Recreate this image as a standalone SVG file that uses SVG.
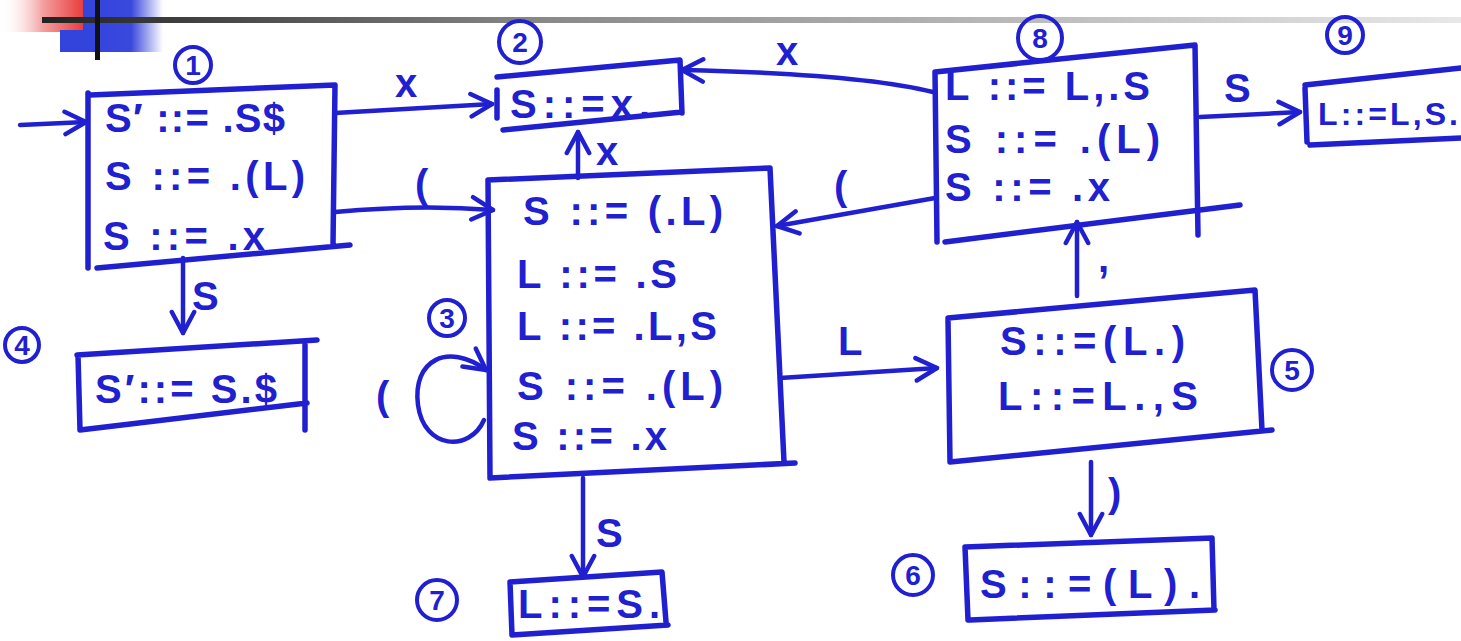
<svg xmlns="http://www.w3.org/2000/svg" width="1461" height="641" viewBox="0 0 1461 641">
<defs>
<linearGradient id="gLine" x1="0" y1="0" x2="1" y2="0">
<stop offset="0" stop-color="#222"/><stop offset="0.35" stop-color="#888"/><stop offset="1" stop-color="#e8e8e8"/>
</linearGradient>
<linearGradient id="gRed" x1="0" y1="0" x2="1" y2="0">
<stop offset="0" stop-color="#fff" stop-opacity="0"/><stop offset="0.5" stop-color="#f4a0a0"/><stop offset="1" stop-color="#e83838"/>
</linearGradient>
<linearGradient id="gBlue" x1="0" y1="0" x2="1" y2="0">
<stop offset="0" stop-color="#3344dd"/><stop offset="0.6" stop-color="#3a48dd"/><stop offset="1" stop-color="#3a48dd" stop-opacity="0"/>
</linearGradient>
<marker id="ah" viewBox="0 0 20 20" refX="18" refY="10" markerWidth="28" markerHeight="28" markerUnits="userSpaceOnUse" orient="auto">
<path d="M3,2 L18,10 L3,18" fill="none" stroke="#2020d0" stroke-width="3.2" stroke-linecap="round" stroke-linejoin="round"/>
</marker>
<style>
.box{fill:none;stroke:#2020d0;stroke-width:5.5;stroke-linejoin:round;stroke-linecap:round}
.edge{fill:none;stroke:#2020d0;stroke-width:4.5;stroke-linecap:round;marker-end:url(#ah)}
.t{font-family:"Liberation Sans",Arial,sans-serif;font-size:40px;font-weight:bold;fill:#2020d0}
.lbl{font-family:"Liberation Sans",Arial,sans-serif;font-size:40px;font-weight:bold;fill:#2020d0}
.num{font-family:"Liberation Sans",Arial,sans-serif;font-size:28px;font-weight:bold;fill:#2020d0;text-anchor:middle}
.nc{fill:none;stroke:#2020d0;stroke-width:4}
</style>
</defs>
<rect width="1461" height="641" fill="#ffffff"/>
<g id="decor">
<rect x="0" y="0" width="85" height="32" fill="url(#gRed)"/>
<rect x="83" y="0" width="80" height="52" fill="url(#gBlue)"/>
<rect x="60" y="30" width="40" height="22" fill="#3344dd"/>
<rect x="42" y="17" width="1419" height="6" fill="url(#gLine)"/>
<rect x="95" y="0" width="5" height="60" fill="#111"/>
</g>
<g id="connectors">
<path class="edge" d="M20,125 L86,122"/>
<path class="edge" d="M335,113 L492,104"/>
<path class="edge" d="M335,212 Q420,204 493,210"/>
<path class="edge" d="M183,258 L183,333"/>
<path class="edge" d="M578,178 L578,132"/>
<path class="edge" d="M933,92 Q860,74 682,70"/>
<path class="edge" d="M935,198 L777,226"/>
<path class="edge" d="M780,378 L937,368"/>
<path class="edge" d="M583,478 L583,577"/>
<path class="edge" d="M1077,296 L1077,222"/>
<path class="edge" d="M1091,462 L1091,535"/>
<path class="edge" d="M1200,117 L1300,112"/>
<path class="edge" d="M484,420 C470,452 424,450 418,405 C412,360 448,342 486,370"/>
<text class="lbl" x="395" y="97">x</text>
<text class="lbl" x="415" y="198">(</text>
<text class="lbl" x="192" y="310">S</text>
<text class="lbl" x="596" y="165">x</text>
<text class="lbl" x="776" y="65">x</text>
<text class="lbl" x="834" y="200">(</text>
<text class="lbl" x="838" y="355">L</text>
<text class="lbl" x="596" y="547">S</text>
<text class="lbl" x="1098" y="272">,</text>
<text class="lbl" x="1108" y="507">)</text>
<text class="lbl" x="1224" y="102">S</text>
<text class="lbl" x="376" y="410">(</text>
</g>
<g id="s1">
<path class="box" d="M90,95 L335,85 L333,245 M97,268 L350,245 M88,93 L88,268"/>
<circle class="nc" cx="193" cy="65" r="18"/><text class="num" x="193" y="75">1</text>
<text class="t" x="105" y="132" textLength="180" lengthAdjust="spacing">S′ ::= .S$</text>
<text class="t" x="105" y="190" textLength="200" lengthAdjust="spacing">S ::= .(L)</text>
<text class="t" x="103" y="250" textLength="162" lengthAdjust="spacing">S ::= .x</text>
</g>
<g id="s2">
<path class="box" d="M497,77 L680,60 L682,113 M503,130 L682,112 M497,90 L497,118"/>
<circle class="nc" cx="520" cy="42" r="21"/><text class="num" x="520" y="52">2</text>
<text class="t" x="510" y="118" textLength="140" lengthAdjust="spacing">S::=x.</text>
</g>
<g id="s3">
<path class="box" d="M488,180 L770,168 L784,462 M490,478 L795,463 M488,180 L490,478"/>
<circle class="nc" cx="447" cy="318" r="18"/><text class="num" x="447" y="328">3</text>
<text class="t" x="523" y="225" textLength="200" lengthAdjust="spacing">S ::= (.L)</text>
<text class="t" x="517" y="288" textLength="160" lengthAdjust="spacing">L ::= .S</text>
<text class="t" x="517" y="340" textLength="200" lengthAdjust="spacing">L ::= .L,S</text>
<text class="t" x="517" y="400" textLength="206" lengthAdjust="spacing">S ::= .(L)</text>
<text class="t" x="512" y="450" textLength="155" lengthAdjust="spacing">S ::= .x</text>
</g>
<g id="s4">
<path class="box" d="M77,355 L317,340 M305,345 L305,430 M80,430 L307,403 M78,355 L80,430"/>
<circle class="nc" cx="22" cy="345" r="17"/><text class="num" x="22" y="355">4</text>
<text class="t" x="95" y="403" textLength="182" lengthAdjust="spacing">S′::= S.$</text>
</g>
<g id="s5">
<path class="box" d="M948,318 L1255,290 L1262,430 M950,462 L1272,430 M948,320 L950,462"/>
<circle class="nc" cx="1292" cy="370" r="20"/><text class="num" x="1292" y="380">5</text>
<text class="t" x="1000" y="355" textLength="185" lengthAdjust="spacing">S::=(L.)</text>
<text class="t" x="998" y="410" textLength="200" lengthAdjust="spacing">L::=L.,S</text>
</g>
<g id="s6">
<path class="box" d="M965,547 L1212,538 L1214,610 M970,620 L1215,610 M965,547 L968,620"/>
<circle class="nc" cx="913" cy="575" r="20"/><text class="num" x="913" y="585">6</text>
<text class="t" x="980" y="598" textLength="220" lengthAdjust="spacing">S::=(L).</text>
</g>
<g id="s7">
<path class="box" d="M510,582 L662,572 L666,622 M512,635 L668,625 M510,582 L512,635"/>
<circle class="nc" cx="437" cy="600" r="20"/><text class="num" x="437" y="610">7</text>
<text class="t" x="518" y="618" textLength="142" lengthAdjust="spacing">L::=S.</text>
</g>
<g id="s8">
<path class="box" d="M935,72 L1195,45 L1198,235 M945,242 L1240,205 M935,72 L937,242"/>
<circle class="nc" cx="1040" cy="38" r="22"/><text class="num" x="1040" y="48">8</text>
<text class="t" x="945" y="100" textLength="205" lengthAdjust="spacing">L ::= L,.S</text>
<text class="t" x="945" y="153" textLength="215" lengthAdjust="spacing">S ::= .(L)</text>
<text class="t" x="945" y="201" textLength="165" lengthAdjust="spacing">S ::= .x</text>
</g>
<g id="s9">
<path class="box" d="M1305,85 L1461,68 M1310,145 L1461,138 M1305,88 L1307,142"/>
<circle class="nc" cx="1345" cy="35" r="18"/><text class="num" x="1345" y="45">9</text>
<text class="t" x="1318" y="125" textLength="140" lengthAdjust="spacing" style="font-size:32px">L::=L,S.</text>
</g>
</svg>
